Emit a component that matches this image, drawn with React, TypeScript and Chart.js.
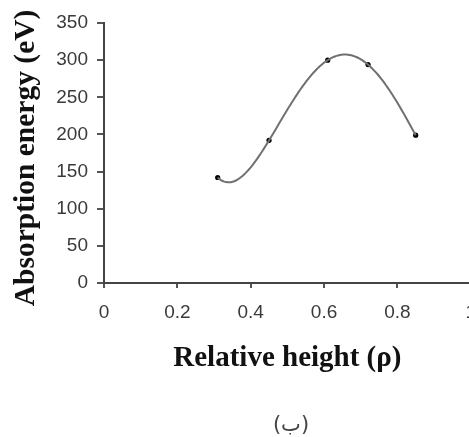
import React, { useEffect, useRef } from "react";
import { Chart, registerables } from "chart.js";

Chart.register(...registerables);

const relativeHeight = [0.31, 0.45, 0.61, 0.72, 0.85];
const absorptionEnergy = [142, 192, 300, 294, 199];
const trendOrder = 4;
const xTitle = "Relative height (\u03C1)";
const yTitle = "Absorption energy (eV) \u200A";
const caption = "(\u0628)";

// Least-squares polynomial trendline (like a spreadsheet "polynomial" trendline)
function polyfit(xs: number[], ys: number[], order: number): (x: number) => number {
  const n = order + 1;
  const mean = xs.reduce((a, b) => a + b, 0) / xs.length;
  const A: number[][] = Array.from({ length: n }, () => new Array(n + 1).fill(0));
  xs.forEach((xv, k) => {
    const u = xv - mean;
    for (let i = 0; i < n; i++) {
      for (let j = 0; j < n; j++) A[i][j] += Math.pow(u, i + j);
      A[i][n] += Math.pow(u, i) * ys[k];
    }
  });
  for (let c = 0; c < n; c++) {
    let p = c;
    for (let r = c + 1; r < n; r++) if (Math.abs(A[r][c]) > Math.abs(A[p][c])) p = r;
    [A[c], A[p]] = [A[p], A[c]];
    for (let r = 0; r < n; r++) {
      if (r === c) continue;
      const f = A[r][c] / A[c][c];
      for (let k = c; k <= n; k++) A[r][k] -= f * A[c][k];
    }
  }
  const coef = A.map((row, i) => row[n] / row[i]);
  return (x: number) => coef.reduce((s, cf, i) => s + cf * Math.pow(x - mean, i), 0);
}

export default function App() {
  const ref = useRef<HTMLCanvasElement | null>(null);

  useEffect(() => {
    document.body.style.margin = "0";
    const ctx = ref.current;
    if (!ctx) return;
    const fit = polyfit(relativeHeight, absorptionEnergy, trendOrder);
    const x0 = Math.min(...relativeHeight);
    const x1 = Math.max(...relativeHeight);
    const steps = 120;
    const trend = Array.from({ length: steps + 1 }, (_, i) => {
      const x = x0 + ((x1 - x0) * i) / steps;
      return { x, y: fit(x) };
    });
    const chart = new Chart(ctx, {
      type: "scatter",
      data: {
        datasets: [
          {
            data: trend,
            showLine: true,
            borderColor: "#707070",
            borderWidth: 2,
            pointRadius: 0,
            tension: 0,
          },
          {
            data: relativeHeight.map((x, i) => ({ x, y: absorptionEnergy[i] })),
            showLine: false,
            pointRadius: 2.6,
            pointBackgroundColor: "#000",
            pointBorderColor: "#000",
            pointBorderWidth: 0,
          },
        ],
      },
      options: {
        animation: false,
        responsive: false,
        maintainAspectRatio: false,
        layout: { padding: { top: 23, right: 1, left: 0, bottom: 0 } },
        plugins: { legend: { display: false }, tooltip: { enabled: false } },
        scales: {
          x: {
            type: "linear",
            min: 0,
            max: 1,
            ticks: {
              stepSize: 0.2,
              padding: 13,
              color: "#3a3a3a",
              font: { family: "Liberation Sans", size: 19 },
              callback: (v: any) => String(Math.round(Number(v) * 10) / 10),
            },
            grid: { drawOnChartArea: false, drawTicks: true, tickLength: 5, color: "#555", lineWidth: 2 },
            border: { display: true, color: "#444", width: 2 },
            title: {
              display: true,
              text: xTitle,
              color: "#111",
              font: { family: "Liberation Serif", size: 29, weight: "bold" },
              padding: { top: 0, bottom: 61 },
            },
            afterFit: (s: any) => {
              s.height = 154;
            },
          },
          y: {
            min: 0,
            max: 350,
            ticks: {
              stepSize: 50,
              padding: 9,
              color: "#3a3a3a",
              font: { family: "Liberation Sans", size: 19 },
            },
            grid: { drawOnChartArea: false, drawTicks: true, tickLength: 7, color: "#555", lineWidth: 2 },
            border: { display: true, color: "#444", width: 2 },
            title: {
              display: true,
              text: yTitle,
              color: "#111",
              font: { family: "Liberation Serif", size: 29.5, weight: "bold" },
              padding: { top: 9, bottom: 0 },
            },
            afterFit: (s: any) => {
              s.width = 104;
            },
          },
        },
      },
    });
    return () => chart.destroy();
  }, []);

  return (
    <div style={{ position: "relative", width: 469, height: 437, overflow: "hidden", background: "#fff" }}>
      <canvas ref={ref} width={489} height={437} style={{ position: "absolute", left: 0, top: 0 }} />
      <div
        style={{
          position: "absolute",
          left: 191,
          width: 200,
          top: 411,
          textAlign: "center",
          fontFamily: "DejaVu Sans",
          fontSize: 21,
          lineHeight: "26px",
          color: "#444",
        }}
      >
        {caption}
      </div>
    </div>
  );
}
